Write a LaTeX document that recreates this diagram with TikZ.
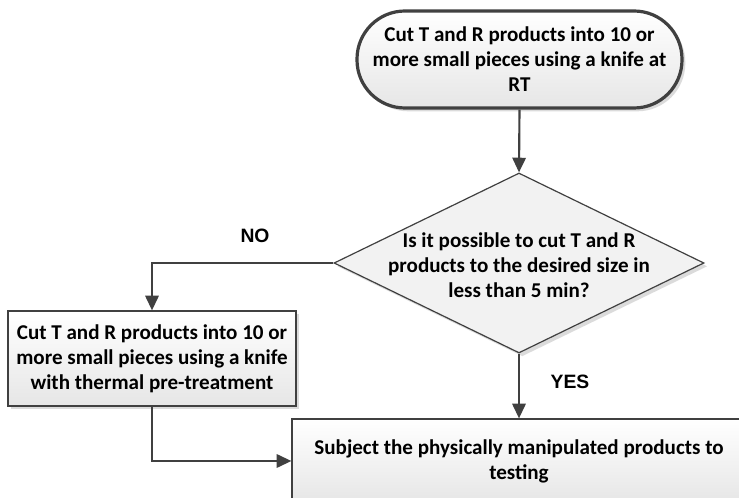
\documentclass[tikz,border=0pt]{standalone}
\usepackage{fontspec}
\setmainfont{Carlito}
\newfontfamily\labelfont{Liberation Sans}
\usetikzlibrary{shapes.geometric,arrows.meta,shadows}
\definecolor{edge}{HTML}{404040}
\definecolor{paleshade}{HTML}{E6E6E6}
\tikzset{
  boxtext/.style={font=\bfseries\fontsize{15.8}{18.75}\selectfont, text=black, align=center},
  shadowed/.style={drop shadow={shadow xshift=2.5pt, shadow yshift=-2.5pt, fill=black!25, opacity=0.55}},
  stepbox/.style={rectangle, draw=edge, line width=0.9pt, top color=white, bottom color=paleshade,
    shadowed, inner sep=0pt, boxtext},
  terminal/.style={rectangle, rounded corners=36pt, draw=edge, line width=2.4pt, top color=white,
    bottom color=paleshade, shadowed, inner sep=0pt, boxtext},
  decision/.style={diamond, draw=edge, line width=0.9pt, fill=black!5, shadowed, inner sep=0pt},
  flow/.style={draw=edge, line width=1.6pt, -{Triangle[length=11pt,width=10pt]}},
  answer/.style={font=\labelfont\bfseries\fontsize{14.5}{16}\selectfont, text=black}
}
\begin{document}
\begin{tikzpicture}[x=0.75pt,y=-0.75pt]
  \clip (0,0) rectangle (739,498);
  \fill[white] (0,0) rectangle (739,498);

  % start: cut at room temperature
  \node[terminal, minimum width=243.75pt, minimum height=72.75pt] (start) at (519.5,59.5)
    {Cut T and R products into 10 or\\more small pieces using a knife at\\RT};

  % decision: can it be done in under 5 minutes
  \node[decision, minimum width=277.5pt, minimum height=135pt] (dec) at (519,263) {};
  \node[boxtext] (dectext) at (519,265)
    {Is it possible to cut T and R\\products to the desired size in\\less than 5 min?};

  % fallback: cut after thermal pre-treatment
  \node[stepbox, minimum width=216pt, minimum height=71.25pt] (thermal) at (152,358.5)
    {Cut T and R products into 10 or\\more small pieces using a knife\\with thermal pre-treatment};

  % final step: testing
  \node[stepbox, minimum width=340.5pt, minimum height=63pt] (test) at (519,461)
    {Subject the physically manipulated products to\\testing};

  % connectors
  \draw[flow] (start.south) -- (dec.north);
  \draw[flow] (dec.west) -| (thermal.north);
  \draw[flow] (dec.south) -- (test.north);
  \draw[flow] (thermal.south) |- (test.west);

  % branch labels
  \node[answer] (no) at (255,236) {NO};
  \node[answer] (yes) at (570,382) {YES};
\end{tikzpicture}
\end{document}
